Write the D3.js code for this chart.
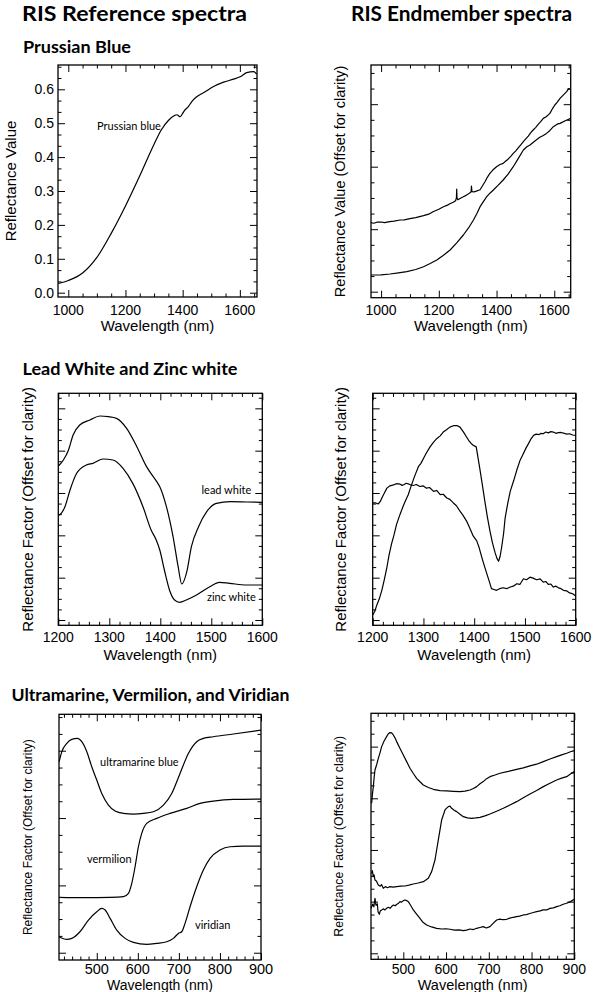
<!DOCTYPE html>
<html><head><meta charset="utf-8">
<script src="https://cdn.jsdelivr.net/npm/d3@7"></script>
<style>body{margin:0;background:#fff}</style></head>
<body><svg id="c" width="595" height="992"></svg>
<script>
// ---------------- DATA ----------------
// Prussian blue – reference
const pbRefWl  = [965,1000,1050,1100,1150,1200,1250,1300,1325,1350,1370,1380,1391,1400,1408,1420,1432,1449,1473,1508,1543,1578,1601,1624,1648,1659];
const pbRefVal = [0.027,0.036,0.058,0.104,0.175,0.256,0.345,0.438,0.480,0.508,0.522,0.525,0.519,0.529,0.539,0.549,0.564,0.578,0.590,0.608,0.621,0.630,0.637,0.649,0.652,0.645];
// Prussian blue – endmembers (offset)
const pbEmWl1 = [965,975,985,1000,1012,1030,1045,1066,1080,1100,1120,1147,1165,1180,1200,1216,1230,1240,1250,1258,1261,1262,1263,1266,1275,1285,1296,1308,1312,1313,1315,1322,1330,1343,1352,1360,1368,1377,1388,1400,1412,1423,1432,1440,1450,1458,1466,1475,1484,1493,1502,1510,1518,1527,1536,1545,1553,1562,1572,1585,1594,1602,1610,1620,1632,1643,1650,1657];
const pbEm1   = [1.104,1.095,1.112,1.115,1.105,1.120,1.128,1.147,1.150,1.170,1.185,1.216,1.240,1.280,1.318,1.360,1.385,1.410,1.430,1.456,1.500,1.640,1.500,1.470,1.495,1.520,1.545,1.584,1.600,1.690,1.600,1.598,1.610,1.632,1.700,1.760,1.830,1.893,1.950,2.000,2.035,2.053,2.090,2.120,2.170,2.213,2.250,2.300,2.350,2.400,2.450,2.490,2.540,2.587,2.630,2.680,2.720,2.773,2.800,2.853,2.930,2.987,3.030,3.093,3.150,3.200,3.250,3.237];
const pbEmWl2 = [965,1000,1031,1060,1089,1120,1147,1170,1193,1215,1239,1262,1285,1303,1320,1332,1343,1355,1366,1378,1389,1405,1423,1440,1458,1475,1493,1505,1516,1533,1550,1562,1573,1585,1597,1610,1620,1640,1657];
const pbEm2   = [0.267,0.270,0.283,0.300,0.320,0.355,0.400,0.450,0.507,0.580,0.667,0.780,0.907,1.020,1.147,1.250,1.360,1.445,1.520,1.580,1.627,1.700,1.787,1.880,2.000,2.130,2.267,2.320,2.347,2.410,2.470,2.500,2.533,2.580,2.640,2.680,2.693,2.740,2.773];
// Lead white / zinc white – reference
const leadRefWl = [1200,1202,1210,1220,1229,1242,1262,1282,1298,1314,1334,1354,1373,1393,1399,1412,1425,1435,1442,1452,1461,1475,1491,1510,1537,1570,1600];
const leadRef   = [3.640,3.661,3.780,4.016,4.370,4.606,4.724,4.819,4.803,4.764,4.528,4.094,3.622,3.268,3.150,2.677,1.969,1.260,0.850,1.142,1.732,2.205,2.559,2.756,2.795,2.787,2.780];
const zincRefWl = [1200,1202,1213,1223,1236,1255,1268,1288,1307,1327,1346,1366,1382,1392,1399,1408,1418,1428,1438,1451,1471,1497,1516,1536,1569,1600];
const zincRef   = [2.470,2.480,2.677,3.071,3.465,3.661,3.701,3.803,3.780,3.583,3.228,2.677,2.126,1.890,1.654,1.181,0.709,0.472,0.417,0.472,0.591,0.787,0.890,0.866,0.827,0.827];
// Lead white / zinc white – endmembers
const lwEmWlA = [1200,1204,1208,1213,1218,1223,1228,1232,1237,1242,1247,1254,1260,1265,1270,1275,1280,1285,1290,1295,1300,1306,1313,1320,1326,1333,1339,1346,1352,1359,1366,1372,1379,1384,1389,1394,1398,1404,1411,1416,1421,1426,1431,1436,1441,1445,1448,1451,1454,1458,1461,1466,1471,1478,1484,1490,1497,1502,1507,1512,1517,1522,1528,1532,1536,1541,1546,1551,1556,1561,1566,1571,1576,1582,1588,1594,1600];
const lwEmA   = [0.117,0.200,0.350,0.500,0.701,0.960,1.246,1.520,1.791,2.010,2.259,2.500,2.687,2.830,2.960,3.140,3.310,3.470,3.621,3.700,3.816,3.950,4.089,4.200,4.283,4.350,4.439,4.500,4.556,4.590,4.595,4.556,4.439,4.340,4.245,4.170,4.128,4.089,3.583,3.200,2.804,2.430,2.103,1.820,1.597,1.450,1.386,1.500,1.713,2.050,2.414,2.750,3.037,3.300,3.544,3.760,3.933,4.060,4.167,4.280,4.361,4.390,4.380,4.410,4.400,4.440,4.420,4.450,4.439,4.410,4.425,4.430,4.416,4.390,4.400,4.370,4.361];
const lwEmWlB = [1200,1205,1211,1215,1218,1223,1228,1234,1241,1247,1254,1258,1262,1266,1270,1275,1280,1286,1293,1299,1306,1312,1320,1326,1333,1339,1346,1352,1359,1365,1372,1378,1385,1391,1398,1405,1410,1415,1420,1425,1430,1434,1439,1444,1450,1457,1464,1471,1477,1484,1490,1497,1503,1510,1516,1523,1530,1536,1541,1546,1551,1556,1561,1566,1571,1576,1582,1588,1594,1600];
const lwEmB   = [2.765,2.770,2.741,2.800,2.882,3.000,3.115,3.170,3.193,3.220,3.209,3.180,3.200,3.230,3.217,3.190,3.178,3.200,3.154,3.170,3.115,3.130,3.037,3.060,2.960,2.970,2.882,2.850,2.765,2.700,2.570,2.470,2.336,2.180,1.986,1.869,1.700,1.480,1.280,1.090,0.900,0.740,0.720,0.701,0.740,0.763,0.740,0.779,0.800,0.857,0.840,0.974,0.950,1.012,0.990,0.950,0.970,0.896,0.910,0.840,0.850,0.779,0.800,0.760,0.740,0.701,0.690,0.640,0.620,0.569];
// Ultramarine / vermilion / viridian – reference
const ultraWl  = [408.3,414.8,427,439.1,452.9,463.5,475.7,487.8,500,512.2,528.4,544.6,564.9,589.2,613.6,637.9,662.3,682.6,702.8,723.1,743.4,759.6,784,832.7,900];
const ultraRef = [2.837,2.985,3.109,3.168,3.183,3.134,2.985,2.762,2.564,2.366,2.193,2.104,2.069,2.059,2.069,2.094,2.193,2.366,2.663,2.960,3.134,3.183,3.208,3.248,3.307];
const vermWl   = [408.3,467.5,532.5,564.9,577.1,585.2,593.3,601.4,609.5,621.7,646,678.5,719.1,751.5,784,832.7,900];
const vermRef  = [0.822,0.817,0.822,0.832,0.881,1.030,1.277,1.574,1.772,1.921,1.995,2.069,2.144,2.218,2.252,2.277,2.282];
const viriWl   = [408.3,427,439.1,459,479.7,500,512.2,520.3,532.5,548.7,569,589.2,621.7,646,670.4,686.6,698.8,706.9,715,727.2,743.4,759.6,775.9,800.2,824.5,857,900];
const viriRef  = [0.238,0.198,0.213,0.312,0.485,0.609,0.658,0.634,0.510,0.337,0.213,0.153,0.124,0.139,0.163,0.213,0.287,0.312,0.436,0.683,0.980,1.228,1.401,1.525,1.574,1.584,1.584];
// Ultramarine / vermilion / viridian – endmembers
const uvEmWl1 = [425.9,427.8,429.8,431.7,433.7,437.6,441.5,445.4,449.3,455,461,464.9,468.8,472.7,476.6,480.5,484.4,492,500,507.8,515.6,523.4,531.2,539,546.8,558.5,570.2,585.8,601.4,617,632.6,644.3,656,663.8,671.5,679.3,687.1,694.9,702.7,714.4,726.1,745.6,765.1,780.7,796.3,811.9,827.5,843.1,858.7,870.4,882.1,891,900];
const uvEm1   = [2.903,3.080,3.226,3.400,3.548,3.650,3.774,3.880,4.000,4.110,4.194,4.250,4.271,4.265,4.226,4.170,4.097,3.970,3.839,3.710,3.581,3.480,3.387,3.320,3.258,3.210,3.174,3.150,3.142,3.135,3.129,3.140,3.161,3.190,3.226,3.280,3.323,3.380,3.419,3.450,3.484,3.520,3.561,3.590,3.626,3.660,3.710,3.760,3.806,3.840,3.871,3.900,3.923];
const uvEmWl2 = [425.9,427.5,429.8,431.5,433.7,437,441.5,446,449,453.2,458,463,468.8,476,484.4,494,503.9,513,523.4,535,546.8,558.5,566.3,574.1,581.9,589.7,597.5,601.4,605.3,609.2,613.1,618.9,624.8,632.6,640.4,650.1,659.8,669.6,679.3,691,702.7,718.3,733.9,749.5,765.1,780.7,796.3,811.9,827.5,843.1,858.7,870.4,882.1,891,900];
const uvEm2   = [1.548,1.600,1.484,1.520,1.419,1.400,1.323,1.300,1.330,1.258,1.290,1.270,1.290,1.280,1.290,1.300,1.303,1.320,1.342,1.360,1.387,1.452,1.581,1.806,2.194,2.581,2.774,2.810,2.839,2.850,2.806,2.770,2.742,2.690,2.645,2.620,2.613,2.620,2.632,2.660,2.697,2.750,2.806,2.870,2.935,3.010,3.084,3.150,3.226,3.290,3.355,3.390,3.419,3.470,3.516];
const uvEmWl3 = [424.4,428.3,431,433.7,436,439.2,441,443.9,446,449.3,453,457,461,465,469,473,477,481,485,489,492.2,496,500,503.9,507.8,511.7,517,523.4,531,539,546,554.6,566,578,590,600,609.2,620,630,640.4,648,656,664,671.5,679,687.1,694,702.7,710,718.3,726,733,741.7,749,757.3,765,772,780.7,788,796,804,811.9,820,827,835.3,843,851,858.7,866,874,882.1,891,900];
const uvEm3   = [0.871,0.950,0.900,1.065,0.930,0.955,0.800,0.755,0.820,0.839,0.860,0.840,0.871,0.890,0.870,0.910,0.935,0.920,0.950,0.970,1.000,0.990,1.020,1.032,1.020,1.000,0.930,0.839,0.760,0.677,0.600,0.548,0.510,0.484,0.470,0.475,0.465,0.450,0.455,0.439,0.450,0.470,0.460,0.484,0.500,0.516,0.490,0.516,0.580,0.645,0.660,0.650,0.658,0.680,0.697,0.710,0.720,0.742,0.750,0.770,0.790,0.806,0.820,0.840,0.839,0.870,0.880,0.903,0.920,0.950,0.968,1.000,1.045];

// tick labels
const pbXTicks = [1000,1200,1400,1600];
const pbYTicks = [0,0.1,0.2,0.3,0.4,0.5,0.6];
const lzXTicks = [1200,1300,1400,1500,1600];
const uvXTicks = [500,600,700,800,900];
const offTicks5 = [0,1,2,3,4,5];
const offTicks4 = [0,1,2,3,4];
const offTicks3 = [0,1,2,3];

// text
const mainTitles = ["RIS Reference spectra","RIS Endmember spectra"];
const sectionTitles = ["Prussian Blue","Lead White and Zinc white","Ultramarine, Vermilion, and Viridian"];
const xTitle = "Wavelength (nm)";

// ---------------- DRAW ----------------
const svg = d3.select('#c');
const headFont = "Lato, 'Open Sans', sans-serif";
const axFont = "'Liberation Sans', Arial, Helvetica, sans-serif";
const zip = (a,b) => a.map((v,i)=>[v,b[i]]);

function head(t,x,y,fs,w){
  svg.append('text').attr('x',x).attr('y',y).attr('font-family',headFont).attr('font-weight',700)
    .attr('font-size',fs).attr('textLength',w).attr('lengthAdjust','spacingAndGlyphs').text(t);
}
head(mainTitles[0],22,20.5,21,225);
head(mainTitles[1],351,20.5,21,221);
head(sectionTitles[0],23,52.5,17.5,108);
head(sectionTitles[1],22.5,375,17.5,215);
head(sectionTitles[2],11.5,701,17.5,278);

function ticksIn(dom, step, majors){
  const out=[]; const s=Math.ceil(dom[0]/step-1e-9), e=Math.floor(dom[1]/step+1e-9);
  for(let i=s;i<=e;i++){const v=+(i*step).toFixed(6); if(!majors.some(m=>Math.abs(m-v)<1e-6)) out.push(v);}
  return out;
}

function panel(c){
  const g = svg.append('g');
  const x = d3.scaleLinear().domain(c.xDom).range([c.x0,c.x1]);
  const y = d3.scaleLinear().domain(c.yDom).range([c.y1,c.y0]);
  const xMin = ticksIn(c.xDom,c.xStep,c.xMaj), yMin = ticksIn(c.yDom,c.yStep,c.yMaj);
  const M=c.maj||7, m=c.min||3.5;
  const ax = (axisFn, scale, vals, len, tr) => {
    g.append('g').attr('transform',tr).call(axisFn(scale).tickValues(vals).tickSize(-len).tickFormat(''))
      .call(s=>{s.select('.domain').remove(); s.selectAll('line').attr('stroke','#000').attr('stroke-width',1);});
  };
  ax(d3.axisBottom,x,c.xMaj,M,`translate(0,${c.y1})`); ax(d3.axisBottom,x,xMin,m,`translate(0,${c.y1})`);
  ax(d3.axisTop,x,c.xMaj,M,`translate(0,${c.y0})`);    ax(d3.axisTop,x,xMin,m,`translate(0,${c.y0})`);
  ax(d3.axisLeft,y,c.yMaj,M,`translate(${c.x0},0)`);   ax(d3.axisLeft,y,yMin,m,`translate(${c.x0},0)`);
  ax(d3.axisRight,y,c.yMaj,M,`translate(${c.x1},0)`);  ax(d3.axisRight,y,yMin,m,`translate(${c.x1},0)`);
  g.append('rect').attr('x',c.x0).attr('y',c.y0).attr('width',c.x1-c.x0).attr('height',c.y1-c.y0)
    .attr('fill','none').attr('stroke','#000').attr('stroke-width',1.3);
  g.selectAll('.xl').data(c.xMaj).join('text').attr('x',d=>x(d)).attr('y',c.xLabY)
    .attr('text-anchor','middle').attr('font-family',axFont).attr('font-size',c.tickFs).text(d=>d);
  g.append('text').attr('x',(c.x0+c.x1)/2).attr('y',c.xTitY).attr('text-anchor','middle')
    .attr('font-family',axFont).attr('font-size',c.titFs).text(xTitle);
  if(c.yLab){
    g.selectAll('.yl').data(c.yMaj).join('text').attr('x',c.yLabX).attr('y',d=>y(d)).attr('dy','0.36em')
      .attr('text-anchor','end').attr('font-family',axFont).attr('font-size',c.tickFs).text(d=>d3.format('.1f')(d));
  }
  g.append('text').attr('transform',`translate(${c.yTitX},${(c.y0+c.y1)/2}) rotate(-90)`).attr('text-anchor','middle')
    .attr('font-family',axFont).attr('font-size',c.yTitFs).text(c.yTitle);
  const line = d3.line().x(d=>x(d[0])).y(d=>y(d[1])).curve(c.smooth?d3.curveMonotoneX:d3.curveLinear);
  c.series.forEach(s=>{
    g.append('path').attr('d',line(s)).attr('fill','none').attr('stroke','#000').attr('stroke-width',1.2)
      .attr('stroke-linejoin','round');
  });
  (c.notes||[]).forEach(n=>{
    g.append('text').attr('x',n[1]).attr('y',n[2]).attr('font-family',headFont).attr('font-size',11).text(n[0]);
  });
}

panel({x0:58,x1:257,y0:65,y1:297,xDom:[964,1660],yDom:[-0.0127,0.6717],xMaj:pbXTicks,xStep:50,yMaj:pbYTicks,yStep:0.1/3,
  xLabY:314.5,xTitY:331,tickFs:14,titFs:15,yLab:true,yLabX:54,yTitX:15.5,yTitFs:15,yTitle:"Reflectance Value",smooth:true,
  series:[zip(pbRefWl,pbRefVal)],notes:[["Prussian blue",97,129.5]]});
panel({x0:371,x1:570.7,y0:65,y1:297.7,xDom:[965,1657],yDom:[-0.096,3.627],xMaj:pbXTicks,xStep:50,yMaj:offTicks3,yStep:0.25,
  xLabY:314.5,xTitY:331,tickFs:14,titFs:15,yLab:false,yTitX:345,yTitFs:14.5,yTitle:"Reflectance Value (Offset for clarity)",smooth:false,
  series:[zip(pbEmWl1,pbEm1),zip(pbEmWl2,pbEm2)]});
panel({x0:58.3,x1:262.3,y0:393.3,y1:625.3,xDom:[1200,1600],yDom:[-0.125,5.355],xMaj:lzXTicks,xStep:20,yMaj:offTicks5,yStep:0.25,
  xLabY:642,xTitY:660,tickFs:14,titFs:15,yLab:false,yTitX:33,yTitFs:15,yTitle:"Reflectance Factor (Offset for clarity)",smooth:true,
  series:[zip(leadRefWl,leadRef),zip(zincRefWl,zincRef)],notes:[["lead white",201.5,494],["zinc white",207,600.5]]});
panel({x0:372.7,x1:575.7,y0:393.3,y1:625.3,xDom:[1200,1600],yDom:[-0.125,5.355],xMaj:lzXTicks,xStep:20,yMaj:offTicks5,yStep:0.25,
  xLabY:642,xTitY:660,tickFs:14,titFs:15,yLab:false,yTitX:346,yTitFs:15,yTitle:"Reflectance Factor (Offset for clarity)",smooth:false,
  series:[zip(lwEmWlA,lwEmA),zip(lwEmWlB,lwEmB)]});
panel({x0:59,x1:261,y0:714.3,y1:960,xDom:[408,900],yDom:[-0.108,3.541],xMaj:uvXTicks,xStep:20,yMaj:offTicks3,yStep:0.25,
  xLabY:974,xTitY:989.5,tickFs:14.5,titFs:14,yLab:false,yTitX:31.5,yTitFs:12,yTitle:"Reflectance Factor (Offset for clarity)",smooth:true,
  series:[zip(ultraWl,ultraRef),zip(vermWl,vermRef),zip(viriWl,viriRef)],
  notes:[["ultramarine blue",100,765.5],["vermilion",87,862.5],["viridian",195,928.5]]});
panel({x0:371,x1:574.3,y0:713.3,y1:959.3,xDom:[424.4,900],yDom:[-0.116,4.645],xMaj:uvXTicks,xStep:20,yMaj:offTicks4,yStep:0.25,
  xLabY:974,xTitY:989.5,tickFs:14,titFs:14.5,yLab:false,yTitX:343,yTitFs:12.3,yTitle:"Reflectance Factor (Offset for clarity)",smooth:false,
  series:[zip(uvEmWl1,uvEm1),zip(uvEmWl2,uvEm2),zip(uvEmWl3,uvEm3)]});
</script></body></html>
